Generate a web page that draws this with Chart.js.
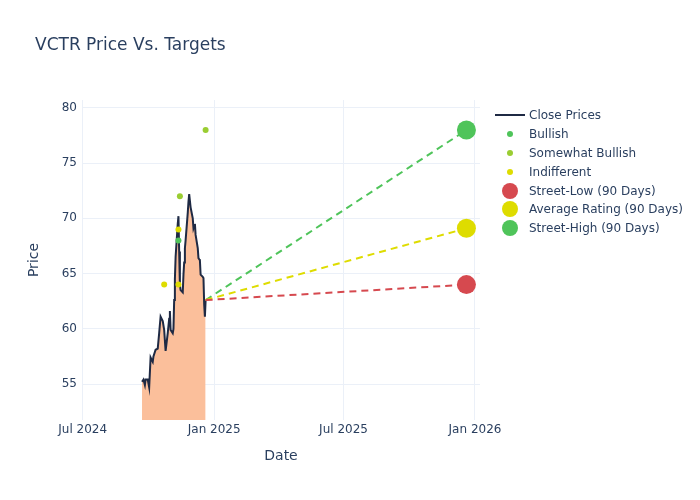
<!DOCTYPE html>
<html>
<head>
<meta charset="utf-8">
<script src="https://cdn.jsdelivr.net/npm/chart.js@4.4.1/dist/chart.umd.min.js"></script>
<style>
  body { margin: 0; background: #fff; font-family: 'DejaVu Sans', sans-serif; }
  #wrap { position: relative; width: 700px; height: 500px; }
  #title { position: absolute; left: 35px; top: 34px; font-size: 17px; line-height: 20px; color: #2a3f5f; white-space: nowrap; }
  #legend { position: absolute; left: 490px; top: 105.5px; font-size: 12px; color: #2a3f5f; }
  .row { height: 18.9px; display: flex; align-items: center; white-space: nowrap; }
  .sym { width: 39px; height: 18.9px; display: flex; justify-content: center; align-items: center; }
  .ln { width: 30px; height: 2px; }
  .dot { border-radius: 50%; }
</style>
</head>
<body>
<div id="wrap">
  <canvas id="priceChart" width="700" height="500"></canvas>
  <div id="title">VCTR Price Vs. Targets</div>
  <div id="legend"></div>
</div>
<script>
// close prices
const closeDates = [
  '2024-09-22', '2024-09-24', '2024-09-26', '2024-09-27', '2024-09-30', '2024-10-02',
  '2024-10-04', '2024-10-07', '2024-10-08', '2024-10-11', '2024-10-14', '2024-10-16',
  '2024-10-18', '2024-10-21', '2024-10-23', '2024-10-25', '2024-10-28', '2024-10-30',
  '2024-10-31', '2024-11-01', '2024-11-04', '2024-11-05', '2024-11-06', '2024-11-07',
  '2024-11-08', '2024-11-11', '2024-11-12', '2024-11-13', '2024-11-14', '2024-11-15',
  '2024-11-18', '2024-11-19', '2024-11-20', '2024-11-21', '2024-11-22', '2024-11-25',
  '2024-11-26', '2024-11-27', '2024-11-29', '2024-12-02', '2024-12-03', '2024-12-04',
  '2024-12-05', '2024-12-06', '2024-12-09', '2024-12-10', '2024-12-11', '2024-12-12',
  '2024-12-13', '2024-12-16', '2024-12-17', '2024-12-18', '2024-12-19', '2024-12-20'
];
const closePrices = [
  55.2, 55.4, 54.9, 55.4, 55.4, 54.7,
  57.4, 57.0, 57.5, 58.1, 58.2, 59.6,
  61.1, 60.7, 59.9, 58.0, 59.6, 60.9,
  61.6, 59.9, 59.6, 60.0, 62.6, 64.5,
  66.5, 69.5, 70.2, 67.0, 64.0, 63.5,
  63.3, 64.9, 66.0, 67.3, 68.0, 70.5,
  71.5, 72.2, 71.0, 70.0, 69.1, 69.3,
  69.5, 68.5, 67.3, 66.4, 66.3, 66.2,
  64.9, 64.7, 64.6, 62.2, 61.1, 62.6
];

// analyst ratings
const bullishDates = ['2024-11-12'];
const bullishValues = [68];
const somewhatBullishDates = ['2024-11-14', '2024-12-20'];
const somewhatBullishValues = [72, 78];
const indifferentDates = ['2024-10-23', '2024-11-12', '2024-11-12'];
const indifferentValues = [64, 69, 64];

// 90 day targets
const targetDate = '2025-12-20';
const targetNames = ['Street-Low (90 Days)', 'Average Rating (90 Days)', 'Street-High (90 Days)'];
const targetValues = [64, 69.1, 78];

const tickDates = ['2024-07-01', '2025-01-01', '2025-07-01', '2026-01-01'];
const tickLabels = ['Jul 2024', 'Jan 2025', 'Jul 2025', 'Jan 2026'];
const priceTicks = [55, 60, 65, 70, 75, 80];

const textColor = '#2a3f5f';
const gridColor = '#ebf0f8';
const fontFamily = "'DejaVu Sans', sans-serif";
const colors = {
  close: '#1f2a44',
  fill: '#fbbf9b',
  bullish: '#4fc45a',
  somewhat: '#9acd32',
  indifferent: '#dedc00',
  low: '#d6494f',
  avg: '#dedc00',
  high: '#4fc45a'
};

// days since 2024-07-01
const base = Date.UTC(2024, 6, 1);
function day(s) {
  const p = s.split('-');
  return (Date.UTC(+p[0], +p[1] - 1, +p[2]) - base) / 86400000;
}
const tickDays = tickDates.map(day);

const lastX = day(closeDates[closeDates.length - 1]);
const lastY = closePrices[closePrices.length - 1];
const targetColors = [colors.low, colors.avg, colors.high];

const targetSets = targetValues.map((v, i) => ({
  label: targetNames[i],
  data: [{ x: lastX, y: lastY }, { x: day(targetDate), y: v }],
  borderColor: targetColors[i],
  borderWidth: 2,
  borderDash: [7, 5],
  pointRadius: c => c.dataIndex === 1 ? 9.5 : 0,
  pointBackgroundColor: targetColors[i],
  pointBorderWidth: 0,
  order: 2
}));

function ratingSet(label, dates, values, color) {
  return {
    label: label,
    data: dates.map((d, i) => ({ x: day(d), y: values[i] })),
    showLine: false,
    pointRadius: 3,
    pointBackgroundColor: color,
    pointBorderWidth: 0,
    order: 1
  };
}

new Chart(document.getElementById('priceChart').getContext('2d'), {
  type: 'line',
  data: {
    datasets: [
      {
        label: 'Close Prices',
        data: closeDates.map((d, i) => ({ x: day(d), y: closePrices[i] })),
        borderColor: colors.close,
        borderWidth: 2,
        pointRadius: 0,
        fill: 'start',
        backgroundColor: colors.fill,
        order: 3
      },
      ratingSet('Bullish', bullishDates, bullishValues, colors.bullish),
      ratingSet('Somewhat Bullish', somewhatBullishDates, somewhatBullishValues, colors.somewhat),
      ratingSet('Indifferent', indifferentDates, indifferentValues, colors.indifferent),
      ...targetSets
    ]
  },
  options: {
    responsive: false,
    animation: false,
    devicePixelRatio: 1,
    layout: { padding: { left: 0, top: 100, right: 220, bottom: 0 } },
    plugins: { legend: { display: false }, tooltip: { enabled: false } },
    scales: {
      x: {
        type: 'linear',
        min: -1,
        max: 556,
        grid: { color: gridColor, drawTicks: false },
        border: { display: false },
        ticks: {
          color: textColor,
          font: { family: fontFamily, size: 12 },
          padding: 3,
          maxRotation: 0,
          callback: v => tickLabels[tickDays.indexOf(v)]
        },
        afterBuildTicks: s => { s.ticks = tickDays.map(v => ({ value: v })); },
        afterFit: s => { s.height = 80; s.paddingLeft = 0; s.paddingRight = 0; },
        title: {
          display: true, text: 'Date', color: textColor,
          font: { family: fontFamily, size: 14 }, padding: { top: 0, bottom: 35.6 }
        }
      },
      y: {
        min: 51.74,
        max: 80.72,
        grid: { color: gridColor, drawTicks: false },
        border: { display: false },
        ticks: { color: textColor, font: { family: fontFamily, size: 12 }, padding: 5 },
        afterBuildTicks: s => { s.ticks = priceTicks.map(v => ({ value: v })); },
        afterFit: s => { s.width = 82; s.paddingTop = 0; s.paddingBottom = 0; },
        title: {
          display: true, text: 'Price', color: textColor,
          font: { family: fontFamily, size: 14 }, padding: { top: 25.6, bottom: 0 }
        }
      }
    }
  }
});

// legend
const legendItems = [
  { name: 'Close Prices', kind: 'line', color: colors.close },
  { name: 'Bullish', kind: 'dot', size: 6, color: colors.bullish },
  { name: 'Somewhat Bullish', kind: 'dot', size: 6, color: colors.somewhat },
  { name: 'Indifferent', kind: 'dot', size: 6, color: colors.indifferent },
  { name: targetNames[0], kind: 'dot', size: 16, color: colors.low },
  { name: targetNames[1], kind: 'dot', size: 16, color: colors.avg },
  { name: targetNames[2], kind: 'dot', size: 16, color: colors.high }
];
const legend = document.getElementById('legend');
legendItems.forEach(it => {
  const row = document.createElement('div');
  row.className = 'row';
  const sym = document.createElement('span');
  sym.className = 'sym';
  const mark = document.createElement('span');
  if (it.kind === 'line') {
    mark.className = 'ln';
  } else {
    mark.className = 'dot';
    mark.style.width = it.size + 'px';
    mark.style.height = it.size + 'px';
  }
  mark.style.background = it.color;
  sym.appendChild(mark);
  const txt = document.createElement('span');
  txt.textContent = it.name;
  row.appendChild(sym);
  row.appendChild(txt);
  legend.appendChild(row);
});
</script>
</body>
</html>
